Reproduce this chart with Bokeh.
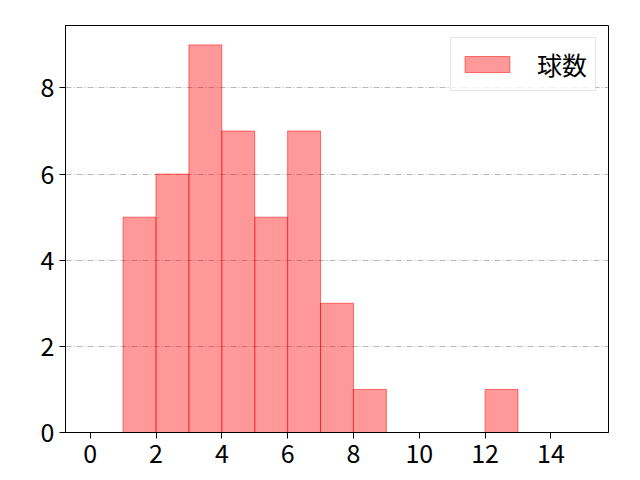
from bokeh.plotting import figure
from bokeh.models import Range1d, FixedTicker, Legend, LegendItem, ColumnDataSource
from bokeh.embed import file_html
from bokeh.resources import INLINE

# Histogram data (bin left edges, bin width 1)
bin_left = [0, 1, 2, 3, 4, 5, 6, 7, 8, 9, 10, 11, 12, 13, 14]
counts = [0, 5, 6, 9, 7, 5, 7, 3, 1, 0, 0, 0, 1, 0, 0]
bin_width = 1
series_label = "球数"
x_ticks = [0, 2, 4, 6, 8, 10, 12, 14]
y_ticks = [0, 2, 4, 6, 8]

FONT = "Noto Sans CJK JP"

lefts = [l for l, c in zip(bin_left, counts) if c > 0]
tops = [c for c in counts if c > 0]
src = ColumnDataSource(dict(left=lefts, right=[l + bin_width for l in lefts],
                            top=tops, bottom=[0] * len(tops)))

p = figure(width=640, height=480, output_backend="svg", toolbar_location=None,
           x_range=Range1d(-0.75, 15.75), y_range=Range1d(0, 9.45),
           min_border_left=65, min_border_top=25, min_border_right=32, min_border_bottom=48)

r = p.quad(left="left", right="right", top="top", bottom="bottom", source=src,
           fill_color="red", fill_alpha=0.4, line_color="red", line_alpha=0.5, line_width=1)

p.xgrid.visible = False
p.ygrid.grid_line_color = "gray"
p.ygrid.grid_line_alpha = 0.7
p.ygrid.grid_line_dash = "6 2 1 2"
p.ygrid.grid_line_width = 0.8
p.ygrid.level = "underlay"

for ax in (p.xaxis[0], p.yaxis[0]):
    ax.axis_line_color = "black"
    ax.major_tick_line_color = "black"
    ax.major_tick_out = 6
    ax.major_tick_in = 0
    ax.minor_tick_out = 0
    ax.minor_tick_in = 0
    ax.major_label_text_font = FONT
    ax.major_label_text_font_size = "25px"
    ax.major_label_text_color = "black"
    ax.major_label_standoff = 5
p.xaxis[0].ticker = FixedTicker(ticks=x_ticks)
p.yaxis[0].ticker = FixedTicker(ticks=y_ticks)

p.outline_line_color = "black"
p.outline_line_alpha = 1
p.outline_line_width = 1

legend = Legend(items=[LegendItem(label=series_label, renderers=[r])],
                location="top_right", margin=12, padding=8,
                glyph_width=56, glyph_height=20, label_standoff=22,
                label_text_font=FONT, label_text_font_size="25px",
                label_text_color="black",
                border_line_color="#cccccc", border_line_width=1,
                background_fill_alpha=0.8)
p.add_layout(legend)

open("out.html", "w").write(file_html(p, INLINE))
